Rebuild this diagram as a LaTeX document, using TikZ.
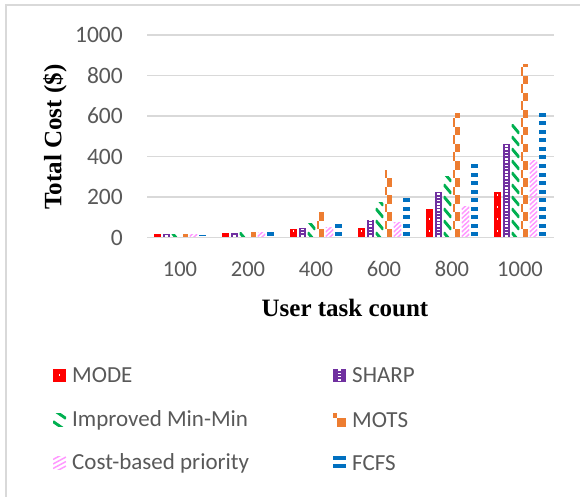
\documentclass[tikz,border=0pt]{standalone}
\usepackage{fontspec}
\setmainfont{Liberation Serif}
\newfontfamily\calfont{Carlito}
\definecolor{cMODE}{HTML}{FF0000}
\definecolor{cSHARP}{HTML}{7030A0}
\definecolor{cMIN}{HTML}{00B050}
\definecolor{cMOTS}{HTML}{ED7D31}
\definecolor{cCOST}{HTML}{FF99FF}
\definecolor{cFCFS}{HTML}{0070C0}
\definecolor{cGRID}{HTML}{D9D9D9}
\definecolor{cTXT}{HTML}{595959}
\newcommand\patMODE{\fill[cMODE] (\barL,\barT) rectangle (\barR,\barB);
  \foreach \k in {0,...,17} \fill[white] ({(\barL+\barR)/2-0.7},{\barB-6-\k*12}) rectangle +(1.4,-1.4);}
\newcommand\patSHARP{\fill[cSHARP] (\barL,\barT) rectangle (\barR,\barB);
  \foreach \k in {0,...,66} \fill[white] ({(\barL+\barR)/2-1.2},{\barB-1-\k*3.2}) rectangle +(2.4,-1.6);}
\newcommand\patMIN{\foreach \k in {0,...,20} \draw[cMIN,line width=2.9] (\barL,{\barB-5-\k*12}) -- (\barR,{\barB+4-\k*12});}
\newcommand\patMOTS{\foreach \k in {0,...,13} {\fill[cMOTS] ({\barL+0.3*(\barR-\barL)},{\barB-\k*17}) rectangle (\barR,{\barB-\k*17-8.5});
  \fill[cMOTS] (\barL,{\barB-\k*17-8.5}) rectangle ({\barL+0.3*(\barR-\barL)},{\barB-\k*17-17});}}
\newcommand\patCOST{\foreach \k in {0,...,50} \draw[cCOST,line width=1.5] (\barL,{\barB+8-\k*4.5}) -- (\barR,{\barB+1-\k*4.5});}
\newcommand\patFCFS{\foreach \k in {0,...,25} \fill[cFCFS] (\barL,{\barB-1.5-\k*8.5}) rectangle (\barR,{\barB-5.5-\k*8.5});}
\newcommand\drawbar[3]{%
  \pgfmathsetmacro\barL{#1-3.8}\pgfmathsetmacro\barR{#1+3.8}%
  \pgfmathsetmacro\barT{237.5-#2*0.2025}\def\barB{237.5}%
  \begin{scope}\clip (\barL,\barT) rectangle (\barR,\barB); #3 \end{scope}}
\newcommand\legmark[3]{%
  \pgfmathsetmacro\barL{#1}\pgfmathsetmacro\barR{#1+13}%
  \pgfmathsetmacro\barT{#2-6.5}\pgfmathsetmacro\barB{#2+6.5}%
  \begin{scope}\clip (\barL,\barT) rectangle (\barR,\barB); #3 \end{scope}}
\begin{document}
\begin{tikzpicture}[x=1pt,y=-1pt,
  ticky/.style={font=\calfont\fontsize{23.5}{27}\selectfont, text=cTXT, anchor=east, inner sep=0pt},
  tickx/.style={font=\calfont\fontsize{22.5}{26}\selectfont, text=cTXT, inner sep=0pt},
  legtext/.style={font=\calfont\fontsize{23}{26}\selectfont, text=cTXT, anchor=west, inner sep=0pt},
  axtitle/.style={font=\bfseries\fontsize{25}{30}\selectfont, text=black, inner sep=0pt}]
\useasboundingbox (0,0) rectangle (580,497);
\fill[white] (0,0) rectangle (580,497);
\draw[cGRID, line width=1.2] (6,497) -- (6,5) -- (580,5);
% gridlines
\foreach \v in {200,400,...,1000} \draw[cGRID, line width=1.5] (147,{237.5-\v*0.2025}) -- (554,{237.5-\v*0.2025});
% bars
\foreach \cx/\a/\b/\c/\d/\e/\f in {180/16/16/15/14/14/12, 248/21/22/23/23/24/28, 316/41/48/68/125/49/79, 384/46/86/175/331/74/202, 452/140/224/300/612/152/368, 520/224/461/556/853/378/622} {
  \drawbar{\cx-22.5}{\a}{\patMODE}
  \drawbar{\cx-13.5}{\b}{\patSHARP}
  \drawbar{\cx-4.5}{\c}{\patMIN}
  \drawbar{\cx+4.5}{\d}{\patMOTS}
  \drawbar{\cx+13.5}{\e}{\patCOST}
  \drawbar{\cx+22.5}{\f}{\patFCFS}
}
\draw[cGRID, line width=1.6] (147,237.5) -- (554,237.5);
% y tick labels
\node[ticky] (y0) at (123,237.5) {0};
\node[ticky] (y200) at (123,197) {200};
\node[ticky] (y400) at (123,156.5) {400};
\node[ticky] (y600) at (123,116) {600};
\node[ticky] (y800) at (123,75.5) {800};
\node[ticky] (y1000) at (123,35) {1000};
% x tick labels
\node[tickx] (x100) at (180,269) {100};
\node[tickx] (x200) at (248,269) {200};
\node[tickx] (x400) at (316,269) {400};
\node[tickx] (x600) at (384,269) {600};
\node[tickx] (x800) at (452,269) {800};
\node[tickx] (x1000) at (520,269) {1000};
% axis titles
\node[axtitle] (xt) at (345,308) {User task count};
\node[axtitle, rotate=90] (yt) at (55,137) {Total Cost (\$)};
% legend
\legmark{53}{375}{\patMODE}
\node[legtext] (l1) at (72,375) {MODE};
\legmark{333}{375}{\patSHARP}
\node[legtext] (l2) at (352,375) {SHARP};
\legmark{53}{420}{\patMIN}
\node[legtext] (l3) at (72,420) {Improved Min-Min};
\legmark{333}{420}{\patMOTS}
\node[legtext] (l4) at (352,420) {MOTS};
\legmark{53}{463}{\patCOST}
\node[legtext] (l5) at (72,463) {Cost-based priority};
\legmark{333}{463}{\patFCFS}
\node[legtext] (l6) at (352,463) {FCFS};
\end{tikzpicture}
\end{document}
